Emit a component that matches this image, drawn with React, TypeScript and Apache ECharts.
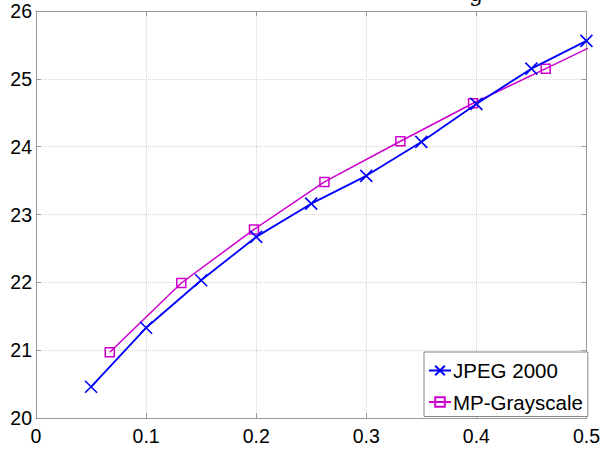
import React, { useEffect, useRef } from "react";
import * as echarts from "echarts";

const jpegX = [0.05, 0.1, 0.15, 0.2, 0.25, 0.3, 0.35, 0.4, 0.45, 0.5];
const jpegY = [20.46, 21.33, 22.03, 22.67, 23.16, 23.57, 24.07, 24.63, 25.15, 25.56];
const mpX = [0.067, 0.132, 0.198, 0.262, 0.331, 0.397, 0.463, 0.528];
const mpY = [20.97, 21.99, 22.78, 23.48, 24.08, 24.64, 25.15, 25.66];
const seriesNames = ["JPEG 2000", "MP-Grayscale"];
const xTicks = [0, 0.1, 0.2, 0.3, 0.4, 0.5];
const yTicks = [20, 21, 22, 23, 24, 25, 26];

const FONT = "Liberation Sans";
const AXIS_COLOR = "#999999";

export default function App() {
  const ref = useRef<HTMLDivElement>(null);
  useEffect(() => {
    const chart = echarts.init(ref.current!, null, { renderer: "svg" });
    const xLab = (v: number) => String(+v.toFixed(1));
    const baseX = {
      type: "value",
      min: xTicks[0],
      max: xTicks[xTicks.length - 1],
      interval: 0.1,
    };
    const baseY = {
      type: "value",
      min: yTicks[0],
      max: yTicks[yTicks.length - 1],
      interval: 1,
    };
    chart.setOption({
      animation: false,
      backgroundColor: "#ffffff",
      grid: { left: 36, top: 11, right: 13, bottom: 35, show: false },
      graphic: [
        {
          type: "text",
          x: 476,
          y: 4,
          style: {
            text: "g",
            font: "22px 'DejaVu Serif'",
            fill: "#000",
            textAlign: "center",
            textVerticalAlign: "bottom",
          },
          z: 0,
        },
      ],
      xAxis: [
        {
          ...baseX,
          position: "bottom",
          axisLine: { show: true, lineStyle: { color: AXIS_COLOR, width: 1 } },
          axisTick: { show: true, inside: true, length: 5, lineStyle: { color: AXIS_COLOR } },
          axisLabel: {
            show: true,
            color: "#000",
            fontFamily: FONT,
            fontSize: 19.5,
            margin: 8,
            formatter: xLab,
          },
          splitLine: { show: true, lineStyle: { color: "#d4d4d4", type: "dotted", width: 1 } },
        },
        {
          ...baseX,
          position: "top",
          axisLine: { show: true, onZero: false, lineStyle: { color: AXIS_COLOR, width: 1 } },
          axisTick: { show: true, inside: true, length: 5, lineStyle: { color: AXIS_COLOR } },
          axisLabel: { show: false },
          splitLine: { show: false },
        },
      ],
      yAxis: [
        {
          ...baseY,
          position: "left",
          axisLine: { show: true, onZero: false, lineStyle: { color: AXIS_COLOR, width: 1 } },
          axisTick: { show: true, inside: true, length: 5, lineStyle: { color: AXIS_COLOR } },
          axisLabel: {
            show: true,
            color: "#000",
            fontFamily: FONT,
            fontSize: 19.5,
            margin: 4,
            padding: [6, 0, 0, 0],
          },
          splitLine: { show: true, lineStyle: { color: "#d4d4d4", type: "dotted", width: 1 } },
        },
        {
          ...baseY,
          position: "right",
          axisLine: { show: true, onZero: false, lineStyle: { color: AXIS_COLOR, width: 1 } },
          axisTick: { show: true, inside: true, length: 5, lineStyle: { color: AXIS_COLOR } },
          axisLabel: { show: false },
          splitLine: { show: false },
        },
      ],
      legend: {
        show: true,
        orient: "vertical",
        left: 424,
        top: 352,
        backgroundColor: "#ffffff",
        borderColor: "#888888",
        borderWidth: 1,
        borderRadius: 0,
        padding: [8, 5, 4, 4],
        itemWidth: 22,
        itemHeight: 12,
        itemGap: 10.5,
        textStyle: { color: "#000", fontFamily: FONT, fontSize: 20.5, padding: [0, 0, 0, -3] },
        data: seriesNames,
      },
      series: [
        {
          name: seriesNames[0],
          type: "line",
          xAxisIndex: 0,
          yAxisIndex: 0,
          data: jpegX.map((x, i) => [x, jpegY[i]]),
          symbol: "path://M0,0L10,10M0,10L10,0",
          symbolSize: 12,
          showAllSymbol: true,
          clip: true,
          lineStyle: { color: "#0000ff", width: 1.8 },
          itemStyle: { color: "transparent", borderColor: "#0000ff", borderWidth: 1.6 },
          z: 3,
        },
        {
          name: seriesNames[1],
          type: "line",
          xAxisIndex: 0,
          yAxisIndex: 0,
          data: mpX.map((x, i) => [x, mpY[i]]),
          symbol: "rect",
          symbolSize: 9,
          showAllSymbol: true,
          clip: true,
          lineStyle: { color: "#cc00cc", width: 1.5 },
          itemStyle: { color: "transparent", borderColor: "#cc00cc", borderWidth: 1.5 },
          z: 2,
        },
      ],
    });
    return () => chart.dispose();
  }, []);
  return (
    <div
      ref={ref}
      style={{ position: "fixed", left: 0, top: 0, width: 603, height: 453 }}
    />
  );
}
